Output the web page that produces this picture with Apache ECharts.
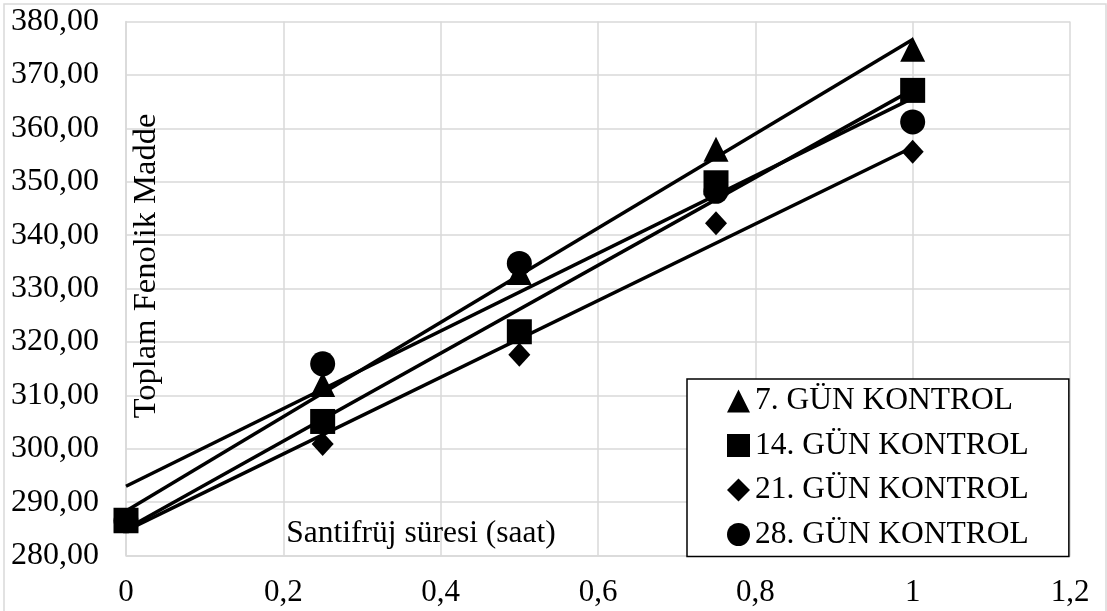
<!DOCTYPE html>
<html>
<head>
<meta charset="utf-8">
<script src="https://cdn.jsdelivr.net/npm/echarts@6/dist/echarts.min.js"></script>
<style>
  html, body { margin: 0; padding: 0; background: #fff; }
  #chart { width: 1107px; height: 611px; }
</style>
</head>
<body>
<div id="chart"></div>
<script>
// santrifüj süresi (saat)
const hours = [0, 0.25, 0.5, 0.75, 1];

// toplam fenolik madde, her seri için
const gun7 = [286.5, 312.0, 333.0, 356.1, 374.8];
const gun14 = [286.6, 305.1, 321.9, 349.8, 367.1];
const gun21 = [286.5, 300.9, 317.6, 342.2, 355.6];
const gun28 = [286.5, 315.9, 334.7, 348.2, 361.2];

const seriesNames = ['7. GÜN KONTROL', '14. GÜN KONTROL', '21. GÜN KONTROL', '28. GÜN KONTROL'];
const seriesSymbols = ['triangle', 'rect', 'diamond', 'circle'];
const symbolSizes = [25, 25, [22, 24], 25];

const FONT = '"Liberation Serif", "Times New Roman", serif';

// doğrusal eğilim çizgisi (en küçük kareler)
function trend(xs, ys) {
    let n = xs.length, mx = 0, my = 0;
    for (let i = 0; i < n; i++) { mx += xs[i]; my += ys[i]; }
    mx /= n; my /= n;
    let sxy = 0, sxx = 0;
    for (let i = 0; i < n; i++) {
        sxy += (xs[i] - mx) * (ys[i] - my);
        sxx += (xs[i] - mx) * (xs[i] - mx);
    }
    let a = sxy / sxx, b = my - a * mx;
    let x0 = xs[0], x1 = xs[n - 1];
    return [[x0, b + a * x0], [x1, b + a * x1]];
}

const allData = [gun7, gun14, gun21, gun28];
const series = [];

allData.forEach(function (vals, i) {
    series.push({
        name: seriesNames[i],
        type: 'scatter',
        symbol: seriesSymbols[i],
        symbolSize: symbolSizes[i],
        itemStyle: { color: '#000', opacity: 1 },
        data: hours.map(function (h, j) { return [h, vals[j]]; }),
        z: 3
    });
});
allData.forEach(function (vals) {
    series.push({
        type: 'line',
        data: trend(hours, vals),
        symbol: 'none',
        silent: true,
        lineStyle: { color: '#000', width: 3.5 },
        z: 4
    });
});

var chart = echarts.init(document.getElementById('chart'));

var option = {
    animation: false,
    backgroundColor: '#fff',
    grid: { left: 126, top: 21.5, right: 37, bottom: 55.5 },
    xAxis: {
        type: 'value',
        min: 0,
        max: 1.2,
        interval: 0.2,
        axisLine: { show: true, lineStyle: { color: '#d9d9d9', width: 1.5 } },
        axisTick: { show: false },
        splitLine: { show: true, lineStyle: { color: '#d9d9d9', width: 1.5 } },
        axisLabel: {
            color: '#000',
            fontFamily: FONT,
            fontSize: 31,
            margin: 22,
            formatter: function (v) { return String(+v.toFixed(1)).replace('.', ','); }
        }
    },
    yAxis: {
        type: 'value',
        min: 280,
        max: 380,
        interval: 10,
        axisLine: { show: true, lineStyle: { color: '#d9d9d9', width: 1.5 } },
        axisTick: { show: false },
        splitLine: { show: true, lineStyle: { color: '#d9d9d9', width: 1.5 } },
        axisLabel: {
            color: '#000',
            fontFamily: FONT,
            fontSize: 32,
            margin: 27,
            formatter: function (v) { return v.toFixed(2).replace('.', ','); }
        }
    },
    legend: {
        data: seriesNames,
        orient: 'vertical',
        left: 687,
        top: 379,
        padding: [6, 40, 6, 40],
        itemWidth: 23,
        itemHeight: 23,
        itemGap: 12.5,
        backgroundColor: '#fff',
        borderColor: '#000',
        borderWidth: 1.5,
        borderRadius: 0,
        itemStyle: { opacity: 1 },
        textStyle: { color: '#000', fontFamily: FONT, fontSize: 31.5, lineHeight: 30 }
    },
    graphic: [
        {
            type: 'rect',
            shape: { x: 4, y: 4, width: 1102, height: 640 },
            style: { fill: 'none', stroke: '#d9d9d9', lineWidth: 1.5 },
            z: -1
        },
        {
            type: 'text',
            x: 146.5,
            y: 266,
            rotation: Math.PI / 2,
            style: {
                text: 'Toplam Fenolik Madde',
                fill: '#000',
                font: '32.5px ' + FONT,
                textAlign: 'center',
                textVerticalAlign: 'middle'
            },
            z: 10
        },
        {
            type: 'text',
            x: 421,
            y: 534,
            style: {
                text: 'Santifrüj süresi (saat)',
                fill: '#000',
                font: '31.5px ' + FONT,
                textAlign: 'center',
                textVerticalAlign: 'middle'
            },
            z: 10
        }
    ],
    series: series
};

chart.setOption(option);
</script>
</body>
</html>
